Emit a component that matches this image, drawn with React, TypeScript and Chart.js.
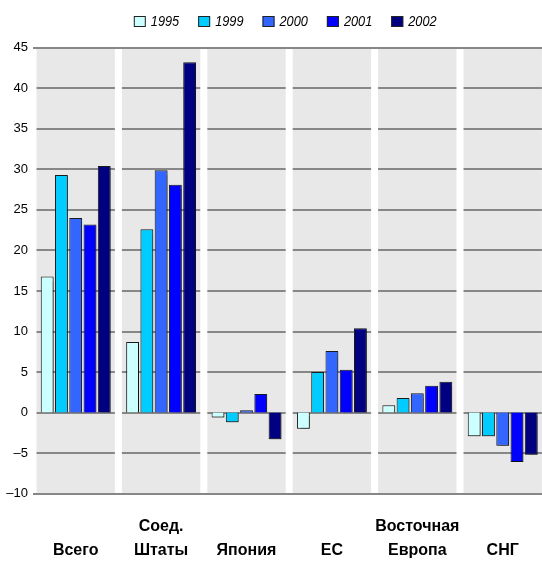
import React, { useEffect, useRef } from "react";
import { Chart, registerables } from "chart.js";

Chart.register(...registerables);

const categories = [
  ["", "Всего"],
  ["Соед.", "Штаты"],
  ["", "Япония"],
  ["", "ЕС"],
  ["Восточная", "Европа"],
  ["", "СНГ"],
];
const seriesLabels = ["1995", "1999", "2000", "2001", "2002"];
const values1995 = [16.8, 8.7, -0.6, -2.0, 0.9, -2.9];
const values1999 = [29.3, 22.6, -1.2, 5.0, 1.8, -2.9];
const values2000 = [24.0, 29.9, 0.3, 7.6, 2.4, -4.1];
const values2001 = [23.2, 28.1, 2.3, 5.3, 3.3, -6.1];
const values2002 = [30.4, 43.2, -3.3, 10.4, 3.8, -5.2];
const seriesValues = [values1995, values1999, values2000, values2001, values2002];
const seriesColors = ["#CCFFFF", "#00CCFF", "#3366FF", "#0000FF", "#000080"];
const yMin = -10;
const yMax = 45;
const yStep = 5;

const FONT = "'Liberation Sans', Arial, sans-serif";

const decorPlugin = {
  id: "decor",
  beforeDraw(chart: any) {
    const { ctx, chartArea: a } = chart;
    ctx.save();
    ctx.fillStyle = "#E8E8E8";
    ctx.fillRect(a.left, a.top, a.right - a.left, a.bottom - a.top);
    ctx.restore();
  },
  beforeDatasetsDraw(chart: any) {
    const { ctx, chartArea: a, scales } = chart;
    const y = scales.y;
    const x = scales.x;
    ctx.save();
    ctx.strokeStyle = "#878787";
    ctx.lineWidth = 2;
    y.ticks.forEach((t: any) => {
      const py = Math.round(y.getPixelForValue(t.value));
      ctx.beginPath();
      ctx.moveTo(a.left, py);
      ctx.lineTo(a.right, py);
      ctx.stroke();
    });
    const n = x.ticks.length;
    ctx.fillStyle = "#FFFFFF";
    for (let i = 0; i <= n; i++) {
      let bx;
      if (i === 0) bx = a.left;
      else if (i === n) bx = a.right;
      else bx = (x.getPixelForTick(i - 1) + x.getPixelForTick(i)) / 2;
      ctx.fillRect(bx - 3.5, a.top, 7, a.bottom - a.top);
    }
    [yMin, yMax].forEach((v) => {
      const py = Math.round(y.getPixelForValue(v));
      ctx.beginPath();
      ctx.moveTo(a.left, py);
      ctx.lineTo(a.right, py);
      ctx.stroke();
    });
    ctx.restore();
    ctx.save();
    ctx.shadowColor = "rgba(0,0,0,0.35)";
    ctx.shadowOffsetX = 1;
    ctx.shadowOffsetY = 1;
    ctx.shadowBlur = 1;
  },
  afterDatasetsDraw(chart: any) {
    chart.ctx.restore();
  },
  afterDraw(chart: any) {
    const { ctx, chartArea: a } = chart;
    const boxW = 12;
    const boxH = 11;
    const gap = 5;
    const spacing = 19;
    const squeeze = 0.85;
    ctx.save();
    ctx.font = `italic 15px ${FONT}`;
    const items = chart.data.datasets.map((d: any) => {
      const tw = ctx.measureText(d.label).width * squeeze;
      return { text: d.label, color: d.backgroundColor, w: boxW + gap + tw };
    });
    const total = items.reduce((s: number, it: any) => s + it.w, 0) + spacing * (items.length - 1);
    let cx = (a.left + a.right) / 2 - 4 - total / 2;
    const top = 16;
    items.forEach((it: any) => {
      ctx.fillStyle = it.color;
      ctx.fillRect(cx, top, boxW, boxH);
      ctx.strokeStyle = "#222";
      ctx.lineWidth = 1;
      ctx.strokeRect(cx + 0.5, top + 0.5, boxW - 1, boxH - 1);
      ctx.save();
      ctx.translate(cx + boxW + gap, top + boxH / 2 + 0.5);
      ctx.scale(squeeze, 1);
      ctx.fillStyle = "#000";
      ctx.textBaseline = "middle";
      ctx.textAlign = "left";
      ctx.fillText(it.text, 0, 0);
      ctx.restore();
      cx += it.w + spacing;
    });
    ctx.restore();
  },
};

export default function App() {
  const ref = useRef<HTMLCanvasElement | null>(null);
  useEffect(() => {
    if (!ref.current) return;
    const chart = new Chart(ref.current, {
      type: "bar",
      data: {
        labels: categories,
        datasets: seriesLabels.map((label, i) => ({
          label,
          data: seriesValues[i],
          backgroundColor: seriesColors[i],
          borderColor: "#1A1A1A",
          borderWidth: 1,
          barPercentage: 0.9,
          categoryPercentage: 0.835,
        })),
      },
      options: {
        responsive: false,
        animation: false,
        devicePixelRatio: 1,
        layout: { padding: { top: 47.7, right: 0.6, bottom: 0, left: 0 } },
        plugins: {
          legend: { display: false },
          tooltip: { enabled: false },
          title: { display: false },
        },
        scales: {
          x: {
            grid: { display: false, drawTicks: false },
            border: { display: false },
            ticks: {
              color: "#000",
              padding: 21,
              maxRotation: 0,
              autoSkip: false,
              font: { family: FONT, size: 16, weight: "bold", lineHeight: 1.5 },
            },
            afterFit: (s: any) => {
              s.height = 73.3;
            },
          },
          y: {
            min: yMin,
            max: yMax,
            grid: { display: false, drawTicks: false },
            border: { display: false },
            ticks: {
              stepSize: yStep,
              color: "#000",
              padding: 5,
              font: { family: FONT, size: 13 },
              callback: (v: any) => (v < 0 ? "\u2013" + Math.abs(v) : String(v)),
            },
            afterFit: (s: any) => {
              s.width = 33;
            },
          },
        },
      },
      plugins: [decorPlugin],
    });
    return () => chart.destroy();
  }, []);
  return (
    <div style={{ position: "fixed", left: 0, top: 0, width: 542, height: 567, overflow: "hidden", background: "#fff" }}>
      <canvas ref={ref} width={546} height={567} style={{ display: "block" }} />
    </div>
  );
}
